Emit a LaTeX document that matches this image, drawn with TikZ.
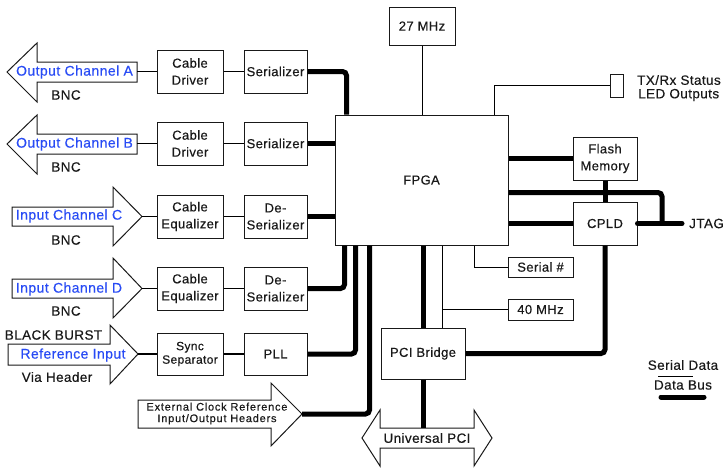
\documentclass[tikz,border=0pt]{standalone}
\usepackage{fontspec}
\setmainfont{Liberation Sans}[LetterSpace=3.0,FakeBold=0.4]
\newfontfamily\widefont{Liberation Sans}[LetterSpace=7.0,FakeBold=0.4]
\usetikzlibrary{calc}
\definecolor{lblue}{RGB}{40,75,245}
\definecolor{ink}{RGB}{25,25,25}
\begin{document}
\begin{tikzpicture}[x=1pt,y=-1pt,
  box/.style={draw=ink, line width=1pt, fill=white, inner sep=0pt, align=center, text=ink,
    font=\fontsize{13}{17}\selectfont},
  smallbox/.style={box, font=\fontsize{12}{13.5}\selectfont},
  bus/.style={line width=5pt, rounded corners=4pt, draw=black},
  sig/.style={line width=1.2pt, draw=black},
  thinl/.style={line width=0.9pt, draw=black},
  arr/.style={draw=ink, line width=1pt, fill=white, line join=miter},
  lbl/.style={text=ink, inner sep=0pt, font=\fontsize{13.5}{15}\selectfont},
  blu/.style={text=lblue, inner sep=0pt, font=\fontsize{14}{15}\selectfont}]
\useasboundingbox (0,0) rectangle (725,469);

% ---------- boxes ----------
\node[box, minimum width=66pt, minimum height=43pt] (cdA) at (190,71.5) {Cable\\Driver};
\node[box, minimum width=63pt, minimum height=43pt] (serA) at (275.5,71.5) {Serializer};
\node[box, minimum width=66pt, minimum height=43pt] (cdB) at (190,143.5) {Cable\\Driver};
\node[box, minimum width=63pt, minimum height=43pt] (serB) at (275.5,143.5) {Serializer};
\node[box, minimum width=66pt, minimum height=43pt] (ceqC) at (190,216.5) {Cable\\Equalizer};
\node[box, minimum width=63pt, minimum height=43pt] (desC) at (275.5,216.5) {De-\\Serializer};
\node[box, minimum width=66pt, minimum height=43pt] (ceqD) at (190,288.5) {Cable\\Equalizer};
\node[box, minimum width=63pt, minimum height=43pt] (desD) at (275.5,288.5) {De-\\Serializer};
\node[smallbox, minimum width=66pt, minimum height=42pt] (sync) at (190,354) {Sync\\Separator};
\node[box, minimum width=63pt, minimum height=42pt] (pll) at (275.5,354) {PLL};

\node[box, minimum width=173pt, minimum height=130pt] (fpga) at (421.5,180) {FPGA};
\node[box, minimum width=66pt, minimum height=38pt] (mhz27) at (422,26) {27 MHz};
\node[box, minimum width=13pt, minimum height=23pt] (led) at (616.5,85.5) {};
\node[box, minimum width=64pt, minimum height=43pt] (flash) at (605,158.5) {Flash\\Memory};
\node[box, minimum width=64pt, minimum height=43pt] (cpld) at (605,223.5) {CPLD};
\node[box, minimum width=65pt, minimum height=20pt] (serial) at (540.5,267) {Serial \#};
\node[box, minimum width=65pt, minimum height=21pt] (mhz40) at (540.5,309.5) {40 MHz};
\node[box, minimum width=84pt, minimum height=51pt] (pci) at (423,353.5) {PCI Bridge};

% ---------- connector arrows ----------
\draw[arr] (7,72) -- (37,43) -- (37,62) -- (137,62) -- (137,82) -- (37,82) -- (37,102) -- cycle;
\coordinate (aA) at (137,72);
\node[blu] (tA) at (74.5,72) {Output Channel A};
\node[lbl] (bncA) at (66,95) {BNC};

\draw[arr] (7,144) -- (37,115) -- (37,134) -- (137,134) -- (137,154) -- (37,154) -- (37,174) -- cycle;
\coordinate (aB) at (137,144);
\node[blu] (tB) at (74.5,144) {Output Channel B};
\node[lbl] (bncB) at (66,167) {BNC};

\draw[arr] (12,207) -- (113,207) -- (113,187) -- (142,216.5) -- (113,246) -- (113,226) -- (12,226) -- cycle;
\coordinate (aC) at (142,216.5);
\node[blu] (tC) at (69,216) {Input Channel C};
\node[lbl] (bncC) at (66,240) {BNC};

\draw[arr] (12,279) -- (113,279) -- (113,258) -- (142,288.5) -- (113,318) -- (113,298) -- (12,298) -- cycle;
\coordinate (aD) at (142,288.5);
\node[blu] (tD) at (69,289) {Input Channel D};
\node[lbl] (bncD) at (66,311) {BNC};

\draw[arr] (8,344) -- (110,344) -- (110,325) -- (138,354) -- (110,384) -- (110,365) -- (8,365) -- cycle;
\coordinate (aR) at (138,354);
\node[lbl] (bb) at (53.5,335) {BLACK BURST};
\node[blu] (tR) at (73,355) {Reference Input};
\node[lbl] (vh) at (57,377) {Via Header};

\draw[arr] (138,400) -- (271,400) -- (271,383) -- (302,414) -- (271,446) -- (271,428) -- (138,428) -- cycle;
\coordinate (aE) at (302,414);
\node[lbl, align=center, font=\widefont\fontsize{11}{11.5}\selectfont] (tE) at (217,413.5)
  {External Clock Reference\\Input/Output Headers};

\draw[arr] (362,438) -- (380,410) -- (380,428) -- (474,428) -- (474,410) -- (492,438) -- (474,466)
  -- (474,448) -- (380,448) -- (380,466) -- cycle;
\coordinate (upci) at (423,428);
\node[lbl] (tU) at (427,438) {Universal PCI};

% ---------- serial links ----------
\draw[sig] (cdA.west) -- (cdA.west -| aA);
\draw[sig] (cdA.east) -- (serA.west);
\draw[sig] (cdB.west) -- (cdB.west -| aB);
\draw[sig] (cdB.east) -- (serB.west);
\draw[sig] (ceqC.west) -- (aC);
\draw[sig] (ceqC.east) -- (desC.west);
\draw[sig] (ceqD.west) -- (aD);
\draw[sig] (ceqD.east) -- (desD.west);
\draw[sig] (sync.west) -- (aR);
\draw[sig] (sync.east) -- (pll.west);

% ---------- buses into FPGA ----------
\draw[bus] (serA.east) -| ($(fpga.north west)+(12,0)$);
\draw[bus] (serB.east) -- (serB.east -| fpga.west);
\draw[bus] (desC.east) -- (desC.east -| fpga.west);
\draw[bus] (desD.east) -| ($(fpga.south west)+(10,0)$);
\draw[bus] (pll.east) -| ($(fpga.south west)+(21,0)$);
\draw[bus] (aE) -| ($(fpga.south west)+(35,0)$);

% ---------- top ----------
\draw[thinl] (mhz27.south) -- (mhz27.south |- fpga.north);
\draw[thinl] ($(fpga.north west)+(160,0)$) |- (led.west);
\node[lbl, anchor=west] (ledt1) at (637,80) {TX/Rx Status};
\node[lbl, anchor=west] (ledt2) at (638,95) {LED Outputs};

% ---------- right side ----------
\draw[bus] (flash.west) -- (flash.west -| fpga.east);
\coordinate (jtag) at (682,223.5);
\draw[bus] ($(fpga.north east)+(0,78)$) -| ($(jtag)+(-20,0)$);
\draw[bus] (cpld.west) -- (cpld.west -| fpga.east);
\draw[bus, line cap=round] (cpld.east) -- (jtag);
\node[lbl, anchor=west] (jtagt) at (689,223.5) {JTAG};
\draw[bus] (flash.south) -- (cpld.north);
\draw[bus] (cpld.south) |- (pci.east);

% ---------- bottom ----------
\draw[bus] (pci.north) -- (pci.north |- fpga.south);
\draw[bus] (pci.south) -- (upci);
\coordinate (t40) at ($(fpga.south west)+(108,0)$);
\draw[thinl] (t40) -- (t40 |- pci.north);
\draw[thinl] (t40 |- mhz40.west) -- (mhz40.west);
\draw[thinl] ($(fpga.south west)+(140,0)$) |- (serial.west);

% ---------- legend ----------
\node[lbl] (lsd) at (683,365) {Serial Data};
\coordinate (ls1) at (658,376);
\coordinate (ls2) at (693,376);
\draw[line width=0.8pt] (ls1) -- (ls2);
\node[lbl] (ldb) at (683,385) {Data Bus};
\coordinate (lb1) at (661,397);
\coordinate (lb2) at (704,397);
\draw[line width=5pt, line cap=round] (lb1) -- (lb2);
\end{tikzpicture}
\end{document}
